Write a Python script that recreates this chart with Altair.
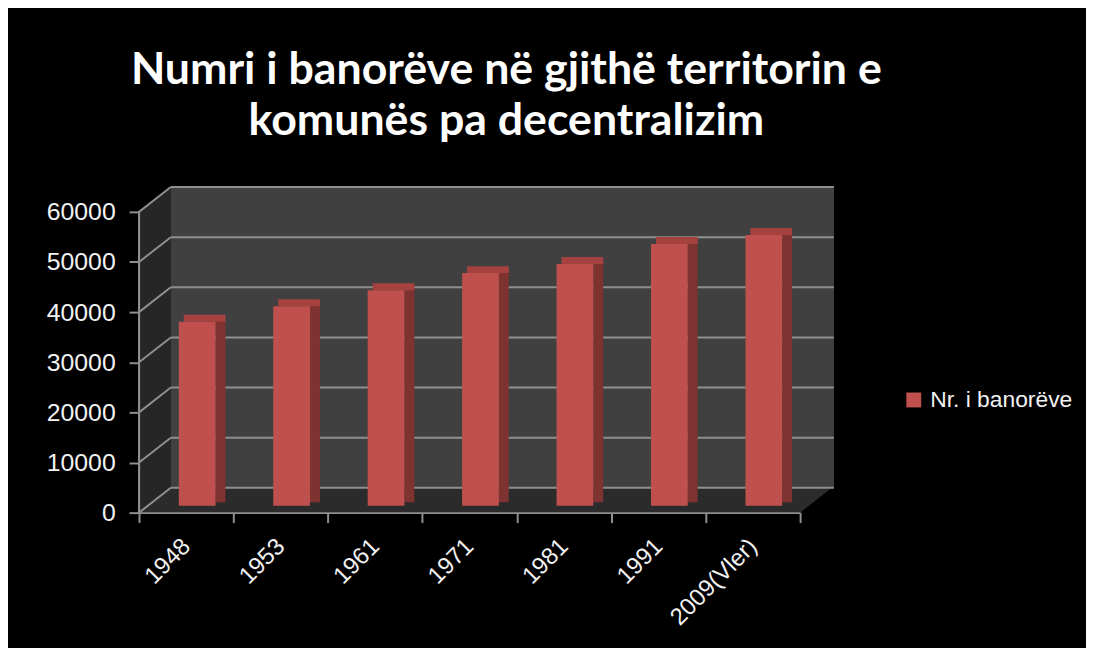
import altair as alt
import pandas as pd

# ---- data ----
years = ["1948", "1953", "1961", "1971", "1981", "1991", "2009(Vler)"]
population = [36700, 39800, 43000, 46400, 48200, 52200, 54000]
series_name = "Nr. i banorëve"
y_ticks = [0, 10000, 20000, 30000, 40000, 50000, 60000]
title_lines = ["Numri i banorëve në gjithë territorin e", "komunës pa decentralizim"]

# ---- layout / style constants (pixels) ----
W, H = 700, 328          # plot area incl. back wall
DX, DY = 32, 25          # depth of the 3D box
FLOOR_W = 666            # width of the front floor edge (category axis)
YTOP = y_ticks[-1]
YMAX = YTOP * H / (H - DY)
UPP = YMAX / H           # data units per pixel
BAR_W = 37
BAR_DX, BAR_DY = 11, 7   # bars sit half-way into the box
FACE_D = 10              # depth of each bar

GRAY = "#8f8f8f"
TXT = "#f2f2f2"
FONT = "Liberation Sans"

bars = pd.DataFrame({"year": years, "value": population, "series": series_name})
ticks = pd.DataFrame({"v": y_ticks})
side_wall = pd.DataFrame({"d": [0, DX], "lo": [0, DY * UPP], "hi": [YTOP, YMAX]})
floor = pd.DataFrame({"yy": [0, DY * UPP], "xl": [0, DX], "xr": [FLOOR_W, FLOOR_W + DX]})

yscale = alt.Scale(domain=[0, YMAX], nice=False, zero=True)
pxscale = alt.Scale(domain=[0, W], range=[0, W], nice=False, zero=False)
xscale = alt.Scale(domain=years, range=[0, FLOOR_W], paddingInner=0, paddingOuter=0)

base_bar = alt.Chart(bars)

front = base_bar.mark_bar(size=BAR_W, xOffset=BAR_DX, yOffset=-BAR_DY, y2Offset=-BAR_DY).encode(
    x=alt.X("year:N", sort=years, scale=xscale,
            axis=alt.Axis(title=None, labelAngle=-45, labelAlign="right", labelBaseline="middle",
                          tickBand="extent", tickSize=10, tickWidth=2, tickColor=GRAY,
                          domainColor=GRAY, domainWidth=2, labelColor=TXT, labelFont=FONT,
                          labelFontSize=24, labelPadding=20, grid=False, zindex=2)),
    y=alt.Y("value:Q", scale=yscale,
            axis=alt.Axis(title=None, values=y_ticks, format="d", domain=False, grid=False,
                          tickSize=10, tickWidth=2, tickColor=GRAY, labelColor=TXT,
                          labelFont=FONT, labelFontSize=25, labelPadding=14, zindex=2)),
    color=alt.Color("series:N", scale=alt.Scale(range=["#C0504D"]),
                    legend=alt.Legend(title=None, orient="none", legendX=769, legendY=203,
                                      symbolType="square", symbolSize=225, symbolStrokeWidth=0,
                                      labelColor=TXT, labelFont=FONT, labelFontSize=23,
                                      labelOffset=5)),
)

side = base_bar.mark_bar(size=FACE_D, color="#7E3330",
                         xOffset=BAR_DX + BAR_W / 2 + FACE_D / 2,
                         yOffset=-BAR_DY - 3.5, y2Offset=-BAR_DY - 3.5).encode(
    x=alt.X("year:N", sort=years, scale=xscale, axis=None),
    y=alt.Y("value:Q", scale=yscale, title=None),
)

top = base_bar.mark_bar(size=BAR_W + 5, color="#A5423F",
                        xOffset=BAR_DX + 7.5,
                        yOffset=-2 * BAR_DY, y2Offset=-BAR_DY).encode(
    x=alt.X("year:N", sort=years, scale=xscale, axis=None),
    y=alt.Y("value:Q", scale=yscale, title=None),
    y2="value:Q",
)

back_wall = alt.Chart(ticks).mark_rect(color="#404040").encode(
    x=alt.value(DX), x2=alt.value(W),
    y=alt.Y(datum=DY * UPP, type="quantitative", scale=yscale, title=None),
    y2=alt.Y2(datum=YMAX),
)

side_area = alt.Chart(side_wall).mark_area(color="#262626").encode(
    x=alt.X("d:Q", scale=pxscale, axis=None),
    y=alt.Y("lo:Q", scale=yscale, title=None),
    y2="hi:Q",
)

floor_area = alt.Chart(floor).mark_area(color="#2b2b2b", orient="horizontal").encode(
    y=alt.Y("yy:Q", scale=yscale, title=None),
    x=alt.X("xl:Q", scale=pxscale, axis=None),
    x2="xr:Q",
)

grid_back = alt.Chart(ticks).mark_rule(color=GRAY, strokeWidth=2, yOffset=-DY).encode(
    y=alt.Y("v:Q", scale=yscale, title=None),
    x=alt.value(DX), x2=alt.value(W),
)

grid_slant = alt.Chart(ticks).mark_rule(color=GRAY, strokeWidth=2, y2Offset=-DY).encode(
    y=alt.Y("v:Q", scale=yscale, title=None),
    y2="v:Q",
    x=alt.value(0), x2=alt.value(DX),
)

y_line = alt.Chart(ticks).mark_rule(color=GRAY, strokeWidth=2).encode(
    x=alt.value(0),
    y=alt.Y(datum=0, type="quantitative", scale=yscale, title=None),
    y2=alt.Y2(datum=YTOP),
)

chart = alt.layer(
    back_wall, side_area, floor_area, grid_back, grid_slant, y_line, side, top, front,
).resolve_scale(x="independent").properties(
    width=W, height=H,
    padding={"left": 132, "top": 178, "right": 254, "bottom": 134},
    autosize=alt.AutoSizeParams(type="none"),
    background="#000000",
    title=alt.Title(text=title_lines, color="#ffffff", font="Lato",
                    fontWeight="bold", fontSize=45, lineHeight=52, anchor="middle",
                    dx=20, offset=42),
).configure_view(stroke="transparent")

chart.save("out.html", embed_options={"renderer": "svg", "actions": False})
